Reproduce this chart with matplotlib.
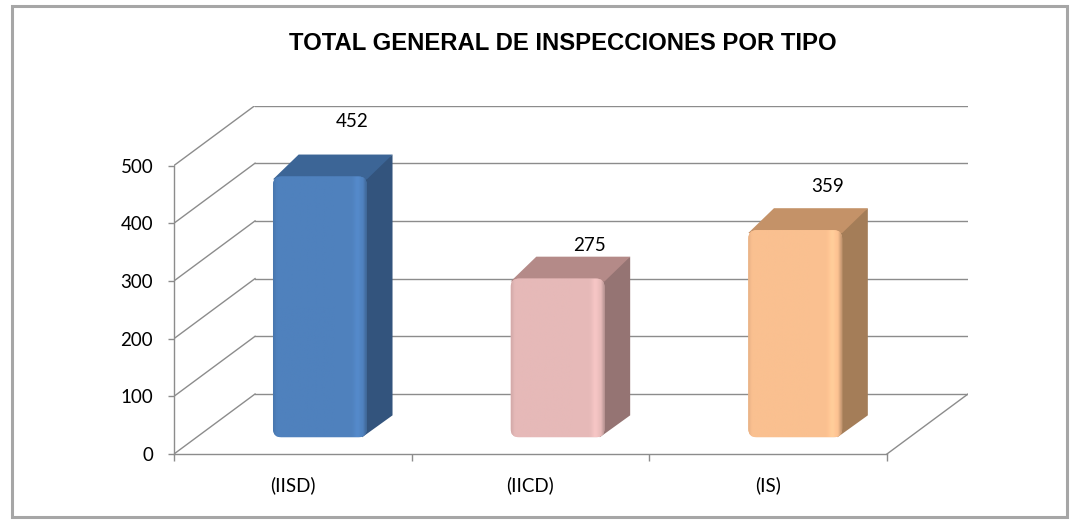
import numpy as np
import matplotlib.pyplot as plt
from matplotlib.patches import Polygon, FancyBboxPatch, Rectangle
from matplotlib.colors import to_rgb

categories = ["(IISD)", "(IICD)", "(IS)"]
values = [452, 275, 359]
front_colors = ["#4F81BD", "#E6B9B8", "#FAC090"]
side_colors = ["#33547D", "#957473", "#A47D58"]
top_colors = ["#3C6596", "#B48A88", "#C49268"]
yticks = [0, 100, 200, 300, 400, 500]
title = "TOTAL GENERAL DE INSPECCIONES POR TIPO"

# fake 3d geometry (data units: x = category, y = value)
DX, DY = 0.341, 104.0          # depth of the whole plot box
FACE_X0, FACE_W = 0.4165, 0.395  # bar front face position inside a category
FACE_Y0 = 29.0                  # bar sits a bit back from the front edge
BDX, BDY = 0.108, 38.0          # depth of one bar
GRID = "#8C8C8C"

plt.rcParams["font.family"] = ["Lato", "DejaVu Sans"]

fig = plt.figure(figsize=(10.71, 5.21), dpi=100)
fig.patch.set_facecolor("white")

# outer frame of the chart
fig.add_artist(Rectangle((12 / 1071, 4 / 521), 1055 / 1071, 511 / 521,
                         transform=fig.transFigure, fill=False,
                         edgecolor="#A6A6A6", linewidth=2.2))

ax = fig.add_axes([174 / 1071, 67 / 521, 794 / 1071, 348.5 / 521])
ax.set_xlim(0, 3 + DX)
ax.set_ylim(0, 500 + DY)
ax.set_facecolor("none")

# walls: back gridlines + diagonals on the left wall
for v in yticks:
    ax.plot([DX, 3 + DX], [v + DY, v + DY], color=GRID, lw=1, zorder=1)
    ax.plot([0, DX], [v, v + DY], color=GRID, lw=1, zorder=1)
ax.plot([3, 3 + DX], [0, DY], color=GRID, lw=1, zorder=1)


def shade_image(color, n=200):
    base = np.array(to_rgb(color))
    t = np.linspace(0, 1, n)
    k = np.ones(n)
    k -= 0.08 * np.clip(1 - t / 0.04, 0, 1)
    k += 0.07 * np.exp(-((t - 0.9) / 0.04) ** 2)
    k -= 0.22 * np.clip((t - 0.96) / 0.04, 0, 1)
    img = np.clip(base[None, :] * k[:, None], 0, 1)
    return img[None, :, :]


for i, (val, fc, sc, tc) in enumerate(zip(values, front_colors, side_colors, top_colors)):
    x0 = i + FACE_X0
    x1 = x0 + FACE_W
    y0 = FACE_Y0
    y1 = FACE_Y0 + val
    side = Polygon([(x1 - 0.02, y0), (x1 - 0.02, y1), (x1 + BDX, y1 + BDY),
                    (x1 + BDX, y0 + BDY)], closed=True, facecolor=sc,
                   edgecolor="none", zorder=3)
    top = Polygon([(x0, y1 - 5), (x1, y1 - 5), (x1 + BDX, y1 + BDY),
                   (x0 + BDX, y1 + BDY)], closed=True, facecolor=tc,
                  edgecolor="none", zorder=3)
    ax.add_patch(side)
    ax.add_patch(top)
    face = FancyBboxPatch((x0, y0), FACE_W, val,
                          boxstyle="round,pad=0,rounding_size=0.035",
                          mutation_aspect=420, facecolor=fc,
                          edgecolor="none", zorder=4)
    ax.add_patch(face)
    im = ax.imshow(shade_image(fc), extent=(x0, x1, y0, y1), aspect="auto",
                   zorder=5, interpolation="bilinear")
    im.set_clip_path(face)
    ax.text(x0 + FACE_W / 2 + 0.135, y1 + 0.21 * val, str(val), ha="center",
            va="center", fontsize=13.5, color="black", zorder=6)

# axes: front value axis and floor edge
for s in ["top", "right"]:
    ax.spines[s].set_visible(False)
ax.spines["left"].set_bounds(0, 500)
ax.spines["bottom"].set_bounds(0, 3)
for s in ["left", "bottom"]:
    ax.spines[s].set_color(GRID)
    ax.spines[s].set_linewidth(1)

ax.set_yticks(yticks)
ax.set_yticklabels([str(v) for v in yticks])
ax.tick_params(axis="y", length=4, width=1, color=GRID, pad=11, labelsize=13.5)
ax.set_xticks([0, 1, 2, 3])
ax.set_xticklabels([])
ax.tick_params(axis="x", which="major", length=5, width=1, color=GRID)
ax.set_xticks([0.5, 1.5, 2.5], minor=True)
ax.set_xticklabels(categories, minor=True)
ax.tick_params(axis="x", which="minor", length=0, pad=16, labelsize=13.5)

fig.text(563 / 1071, 1 - 44 / 521, title, ha="center", va="center",
         fontsize=17.2, fontweight="bold", family=["Liberation Sans", "DejaVu Sans"])

fig.savefig("out.png", dpi=100)
